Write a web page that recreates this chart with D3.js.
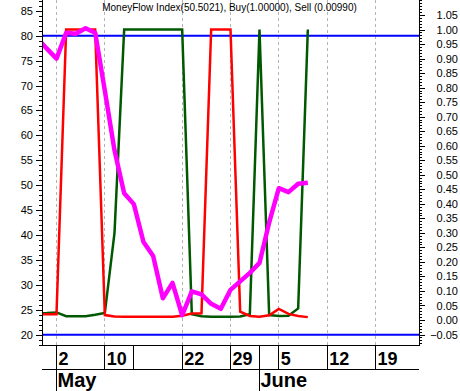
<!DOCTYPE html>
<html><head><meta charset="utf-8">
<script src="https://cdn.jsdelivr.net/npm/d3@7"></script>
<style>
html,body{margin:0;padding:0;background:#fff;}
svg{display:block;font-family:"Liberation Sans",Arial,sans-serif;}
</style></head>
<body>
<svg id="chart" width="460" height="391"></svg>
<script>
// ---- data (trading-day index from -2 .. 26) ----
const dayIndex = d3.range(-2, 27);
const mfi = [79.5, 77.4, 75.4, 80.6, 80.4, 81.5, 80.6, 69, 57, 48.4, 46.2, 38.6, 35.8, 27.3, 30.4, 23.9, 28.7, 28.1, 26.2, 25.2, 29, 30.7, 32.4, 34.4, 42.5, 49.4, 48.6, 50.3, 50.5];
const sell = [0.02, 0.02, 0.02, 1, 1, 1, 1, 0.017, 0.012, 0.011, 0.011, 0.011, 0.011, 0.011, 0.011, 0.015, 0.022, 0.023, 1, 1, 1, 0.029, 0.014, 0.011, 0.016, 0.038, 0.021, 0.014, 0.0099];
const buy = [0.023, 0.024, 0.026, 0.013, 0.013, 0.013, 0.018, 0.024, 0.3, 1, 1, 1, 1, 1, 1, 1, 0.02, 0.013, 0.011, 0.011, 0.011, 0.012, 0.02, 1, 0.017, 0.014, 0.015, 0.04, 1];
const levels = [80, 20];
const dayTickIdx = [0, 5, 8, 13, 18, 23, 28, 33];
const dayTickLabels = ["2", "10", "", "22", "29", "5", "12", "19"];
const monthIdx = [0, 21];
const monthLabels = ["May", "June"];
const title = "MoneyFlow Index(50.5021), Buy(1.00000), Sell (0.00990)";

// ---- layout ----
const L = 42, R = 419, T = 0, B = 345.5, ROW1 = 369, H = 391;
const svg = d3.select("#chart");

const x = d3.scaleLinear().domain([-1.5, 37.5]).range([L, R]);
const yL = d3.scaleLinear().domain([80, 20]).range([35.7, 334.7]);
const yR = d3.scaleLinear().domain([1, 0]).range([29.5, 320]);

svg.append("defs").append("clipPath").attr("id", "clip")
  .append("rect").attr("x", L).attr("y", T).attr("width", R - L).attr("height", B - T);

// gridlines
svg.append("g").selectAll("line")
  .data(dayTickIdx.filter((d, i) => dayTickLabels[i] !== ""))
  .join("line")
  .attr("x1", d => x(d)).attr("x2", d => x(d))
  .attr("y1", T).attr("y2", B)
  .attr("stroke", "#b4b4b4").attr("stroke-width", 1).attr("stroke-dasharray", "3,3")
  .attr("shape-rendering", "crispEdges");

// level lines
svg.append("g").selectAll("line").data(levels).join("line")
  .attr("x1", L).attr("x2", R)
  .attr("y1", d => yL(d)).attr("y2", d => yL(d))
  .attr("stroke", "#0000ff").attr("stroke-width", 2);

const plot = svg.append("g").attr("clip-path", "url(#clip)");
const lineR = (arr) => d3.line().x((d, i) => x(dayIndex[i])).y(d => yR(d))(arr);
const lineL = d3.line().x((d, i) => x(dayIndex[i])).y(d => yL(d));

plot.append("path").attr("d", lineR(buy)).attr("fill", "none")
  .attr("stroke", "#005800").attr("stroke-width", 2.5);
plot.append("path").attr("d", lineR(sell)).attr("fill", "none")
  .attr("stroke", "#ff0000").attr("stroke-width", 2.5);
plot.append("path").attr("d", lineL(mfi)).attr("fill", "none")
  .attr("stroke", "#ff00ff").attr("stroke-width", 4.5).attr("stroke-linejoin", "round");

// left axis
const gL = svg.append("g").attr("transform", `translate(${L},0)`);
gL.call(d3.axisLeft(yL).tickValues(d3.range(18, 88)).tickSize(3).tickFormat(""));
gL.call(g => g.select(".domain").remove());
const gL2 = svg.append("g").attr("transform", `translate(${L},0)`);
gL2.call(d3.axisLeft(yL).tickValues(d3.range(20, 90, 5)).tickSize(6).tickPadding(3));
gL2.select(".domain").remove();
gL2.selectAll("text").attr("font-size", 11).attr("fill", "#000").attr("font-family", "Liberation Sans, Arial, sans-serif");

// right axis
const gR = svg.append("g").attr("transform", `translate(${R},0)`);
gR.call(d3.axisRight(yR).tickValues(d3.range(-8, 111).map(d => d / 100)).tickSize(3).tickFormat(""));
gR.select(".domain").remove();
const gR2 = svg.append("g").attr("transform", `translate(${R},0)`);
gR2.call(d3.axisRight(yR).tickValues(d3.range(-1, 22).map(d => d * 5 / 100)).tickSize(6).tickFormat(d3.format(".2f")).tickPadding(0));
gR2.select(".domain").remove();
gR2.selectAll("text").attr("font-size", 11).attr("fill", "#000")
  .attr("font-family", "Liberation Sans, Arial, sans-serif")
  .attr("text-anchor", "end").attr("x", 458 - R);

svg.selectAll(".tick line").attr("stroke", "#000").attr("shape-rendering", "crispEdges");

// frame
const frame = svg.append("g").attr("stroke", "#000").attr("stroke-width", 1).attr("shape-rendering", "crispEdges");
frame.append("line").attr("x1", L).attr("x2", L).attr("y1", T).attr("y2", B);
frame.append("line").attr("x1", R).attr("x2", R).attr("y1", T).attr("y2", B);
frame.append("line").attr("x1", L).attr("x2", R).attr("y1", B).attr("y2", B);
frame.append("line").attr("x1", L).attr("x2", R).attr("y1", ROW1).attr("y2", ROW1);
frame.selectAll(".dtick").data(dayTickIdx).join("line").attr("class", "dtick")
  .attr("x1", d => x(d)).attr("x2", d => x(d)).attr("y1", B).attr("y2", ROW1);
frame.selectAll(".mtick").data(monthIdx).join("line").attr("class", "mtick")
  .attr("x1", d => x(d)).attr("x2", d => x(d)).attr("y1", B).attr("y2", H);

// date labels
svg.append("g").selectAll("text").data(dayTickIdx).join("text")
  .attr("x", d => x(d) + 2).attr("y", 365)
  .attr("font-size", 18).attr("font-weight", "bold").attr("fill", "#000")
  .text((d, i) => dayTickLabels[i]);
svg.append("g").selectAll("text").data(monthIdx).join("text")
  .attr("x", d => x(d) + 1).attr("y", 386.5)
  .attr("font-size", 20).attr("font-weight", "bold").attr("fill", "#000")
  .text((d, i) => monthLabels[i]);

// title
svg.append("text").attr("x", (L + R) / 2 - 1).attr("y", 11)
  .attr("text-anchor", "middle").attr("font-size", 10).attr("fill", "#000")
  .text(title);
</script>
</body></html>
